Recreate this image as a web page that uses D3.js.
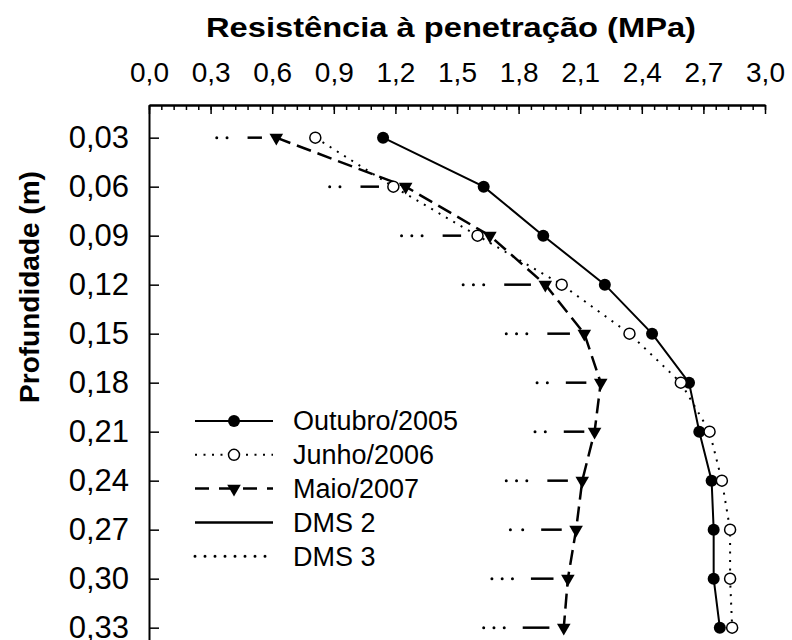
<!DOCTYPE html>
<html>
<head>
<meta charset="utf-8">
<script src="https://cdn.jsdelivr.net/npm/d3@7"></script>
<style>
  body { margin: 0; background: #fff; }
  svg { font-family: "Liberation Sans", Arial, sans-serif; }
</style>
</head>
<body>
<svg width="792" height="640"></svg>
<script>
// profundidade (m)
var depth = [0.03, 0.06, 0.09, 0.12, 0.15, 0.18, 0.21, 0.24, 0.27, 0.30, 0.33];

// resistencia a penetracao (MPa)
var outubro = [1.14, 1.63, 1.92, 2.22, 2.45, 2.63, 2.68, 2.74, 2.75, 2.75, 2.78];
var junho   = [0.81, 1.19, 1.60, 2.01, 2.34, 2.59, 2.73, 2.79, 2.83, 2.83, 2.84];
var maio    = [0.62, 1.25, 1.66, 1.93, 2.12, 2.20, 2.17, 2.11, 2.08, 2.04, 2.02];

// DMS bars (MPa), start / end of each bar
var dms3Start = [0.33, 0.88, 1.23, 1.53, 1.74, 1.89, 1.88, 1.74, 1.76, 1.67, 1.63];
var dms3End   = [0.38, 0.93, 1.33, 1.63, 1.84, 1.94, 1.93, 1.84, 1.82, 1.77, 1.73];
var dms2Start = [0.48, 1.03, 1.43, 1.73, 1.94, 2.03, 2.02, 1.94, 1.91, 1.86, 1.82];
var dms2End   = [0.55, 1.12, 1.52, 1.86, 2.05, 2.13, 2.12, 2.04, 2.01, 1.97, 1.95];

var xTicks = [0, 0.3, 0.6, 0.9, 1.2, 1.5, 1.8, 2.1, 2.4, 2.7, 3.0];
var xMinor = d3.range(0, 3.001, 0.06);
var yTicks = depth;

var legendLabels = ["Outubro/2005", "Junho/2006", "Maio/2007", "DMS 2", "DMS 3"];

var svg = d3.select("svg"),
    margin = {top: 105, left: 149},
    width = 616,
    height = 539,
    g = svg.append("g").attr("transform", "translate(" + margin.left + "," + margin.top + ")");

var pt = d3.formatLocale({decimal: ",", thousands: ".", grouping: [3], currency: ["", ""]});

var x = d3.scaleLinear().domain([0, 3]).range([0, width]);
var y = d3.scaleLinear().domain([0.01, 0.34]).range([0, height]);

// title
svg.append("text")
    .attr("x", 451)
    .attr("y", 37)
    .attr("text-anchor", "middle")
    .attr("font-weight", "bold")
    .attr("font-size", 28)
    .attr("textLength", 490)
    .attr("lengthAdjust", "spacingAndGlyphs")
    .text("Resistência à penetração (MPa)");

// y label
svg.append("text")
    .attr("transform", "translate(39,287) rotate(-90)")
    .attr("text-anchor", "middle")
    .attr("font-weight", "bold")
    .attr("font-size", 28)
    .text("Profundidade (m)");

// axes
g.append("g")
    .attr("class", "xminor")
    .call(d3.axisTop(x).tickValues(xMinor).tickSizeInner(-5).tickSizeOuter(0).tickFormat(""));

g.append("g")
    .attr("class", "xaxis")
    .call(d3.axisTop(x).tickValues(xTicks).tickSizeInner(-9).tickSizeOuter(0).tickPadding(23).tickFormat(pt.format(".1f")));

g.append("g")
    .attr("class", "yaxis")
    .call(d3.axisLeft(y).tickValues(yTicks).tickSizeInner(-10).tickSizeOuter(0).tickPadding(20).tickFormat(pt.format(".2f")));

g.selectAll(".xaxis text").attr("font-size", 28).attr("font-family", null).attr("fill", "#000");
g.selectAll(".yaxis text").attr("font-size", 31).attr("font-family", null).attr("fill", "#000").attr("dy", "0.33em");
g.selectAll(".domain").attr("stroke", "#000").attr("stroke-width", 2);
g.selectAll(".tick line").attr("stroke", "#000").attr("stroke-width", 1.5);

// DMS bars
var rows = depth.map(function(d, i) {
  return {d: d, s3: dms3Start[i], e3: dms3End[i], s2: dms2Start[i], e2: dms2End[i]};
});

// dots spaced about 10px, one at each end of the bar
function dotDash(d) {
  var len = x(d.e3) - x(d.s3),
      n = Math.max(1, Math.round(len / 10));
  return "0," + (len / n);
}

g.append("g").selectAll("line")
  .data(rows)
  .enter().append("line")
    .attr("x1", function(d) { return x(d.s3); })
    .attr("x2", function(d) { return x(d.e3) + 0.5; })
    .attr("y1", function(d) { return y(d.d); })
    .attr("y2", function(d) { return y(d.d); })
    .attr("stroke", "#000")
    .attr("stroke-width", 3)
    .attr("stroke-linecap", "round")
    .attr("stroke-dasharray", dotDash);

g.append("g").selectAll("line")
  .data(rows)
  .enter().append("line")
    .attr("x1", function(d) { return x(d.s2); })
    .attr("x2", function(d) { return x(d.e2); })
    .attr("y1", function(d) { return y(d.d); })
    .attr("y2", function(d) { return y(d.d); })
    .attr("stroke", "#000")
    .attr("stroke-width", 2.5);

// series
var series = [
  {name: legendLabels[0], vals: outubro, dash: null, width: 2},
  {name: legendLabels[1], vals: junho, dash: "2,6.5", width: 2},
  {name: legendLabels[2], vals: maio, dash: "15,7", width: 2.5}
];

var line = d3.line()
    .x(function(d) { return x(d[0]); })
    .y(function(d) { return y(d[1]); });

series.forEach(function(s) {
  g.append("path")
    .datum(s.vals.map(function(v, i) { return [v, depth[i]]; }))
    .attr("fill", "none")
    .attr("stroke", "#000")
    .attr("stroke-width", s.width)
    .attr("stroke-dasharray", s.dash)
    .attr("d", line);
});

var tri = d3.symbol().type(d3.symbolTriangle).size(80);

function drawMarker(sel, kind) {
  if (kind == 0) {
    sel.append("circle").attr("r", 6).attr("fill", "#000");
  } else if (kind == 1) {
    sel.append("circle").attr("r", 5.5).attr("fill", "#fff").attr("stroke", "#000").attr("stroke-width", 1.5);
  } else if (kind == 2) {
    sel.append("path").attr("d", tri).attr("transform", "rotate(180)").attr("fill", "#000");
  }
}

series.forEach(function(s, k) {
  var m = g.append("g").selectAll("g")
    .data(s.vals)
    .enter().append("g")
      .attr("transform", function(v, i) { return "translate(" + x(v) + "," + y(depth[i]) + ")"; });
  drawMarker(m, k);
});

// legend
var legendStyles = [
  {dash: null, width: 2, cap: "butt"},
  {dash: "2,6.5", width: 2, cap: "butt"},
  {dash: "14,10", width: 2.5, cap: "butt"},
  {dash: null, width: 2.5, cap: "butt"},
  {dash: "0,10", width: 3, cap: "round"}
];

var legend = svg.append("g")
  .selectAll("g")
  .data(legendLabels)
  .enter().append("g")
    .attr("transform", function(d, i) { return "translate(195," + (421 + i * 33.8) + ")"; });

legend.append("line")
    .attr("x1", 0)
    .attr("x2", function(d, i) { return i == 4 ? 72 : 78; })
    .attr("stroke", "#000")
    .attr("stroke-width", function(d, i) { return legendStyles[i].width; })
    .attr("stroke-linecap", function(d, i) { return legendStyles[i].cap; })
    .attr("stroke-dasharray", function(d, i) { return legendStyles[i].dash; });

legend.each(function(d, i) {
  if (i < 3) drawMarker(d3.select(this).append("g").attr("transform", "translate(39,0)"), i);
});

legend.append("text")
    .attr("x", 98)
    .attr("dy", "0.35em")
    .attr("font-size", 27)
    .text(function(d) { return d; });
</script>
</body>
</html>
